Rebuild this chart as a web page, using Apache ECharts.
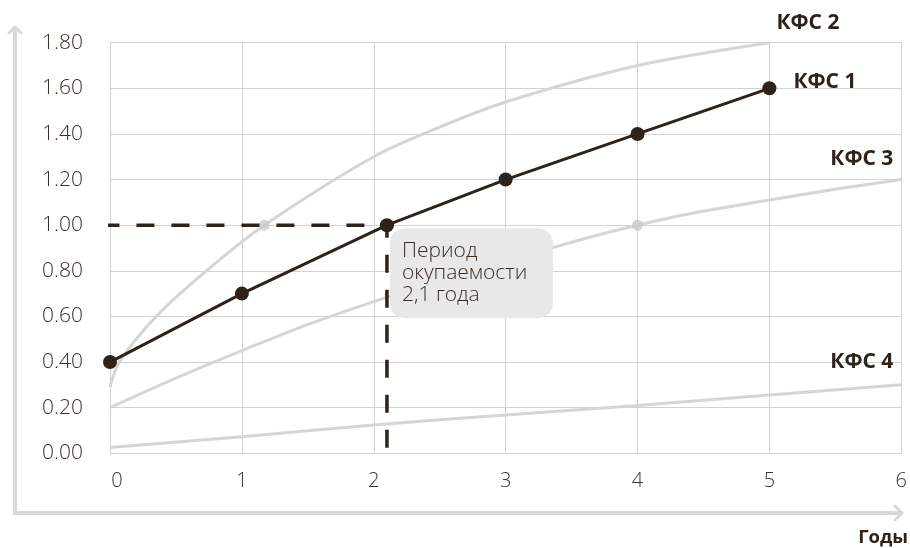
<!DOCTYPE html>
<html>
<head>
<meta charset="utf-8">
<script src="https://cdn.jsdelivr.net/npm/echarts@6/dist/echarts.min.js"></script>
<style>
  html, body { margin: 0; padding: 0; background: #ffffff; }
  #chart { width: 910px; height: 548px; }
</style>
</head>
<body>
<div id="chart"></div>
<script>
// Years on the horizontal axis
const years = [0, 1, 2, 3, 4, 5, 6];

// КФС 1 — main cash-flow ratio curve (payback point included)
const kfs1Years  = [0, 1, 2.1, 3, 4, 5];
const kfs1Values = [0.40, 0.70, 1.00, 1.20, 1.40, 1.60];

// КФС 2 — fast-growing comparison curve
const kfs2Years  = [0, 0.07, 0.35, 0.73, 1.17, 2, 2.5, 3, 4, 5];
const kfs2Values = [0.29, 0.40, 0.60, 0.80, 1.00, 1.30, 1.43, 1.54, 1.70, 1.80];

// КФС 3 and КФС 4 — slower comparison curves, one value per year
const kfs3Values = [0.20, 0.45, 0.665, 0.84, 1.00, 1.11, 1.20];
const kfs4Values = [0.025, 0.073, 0.124, 0.168, 0.21, 0.256, 0.30];

// Points where comparison curves reach a ratio of 1.00
const crossYears  = [1.17, 4];
const crossValues = [1.00, 1.00];

// Payback period guide
const paybackYear = 2.1;
const paybackLevel = 1.00;
const guideStartYear = -0.065;
const guideEndLevel = -0.03;
const paybackText = ['Период', 'окупаемости', '2,1 года'];

// Axis ticks
const yTicks = { min: 0, max: 1.8, step: 0.2 };
const xTicks = { min: 0, max: 6, step: 1 };

const ink = '#2e2219';
const textInk = '#3b2f27';
const gray = '#d5d5d5';
const gridGray = '#d2d2d2';
const font = '"Open Sans", "Noto Sans", sans-serif';

const zip = (xs, ys) => xs.map((x, i) => [x, ys[i]]);

const kfs1Data = zip(kfs1Years, kfs1Values).map(p => {
  if (p[0] !== paybackYear) return p;
  return {
    value: p,
    label: {
      show: true,
      position: [10, 10],
      formatter: paybackText.join('\n'),
      backgroundColor: '#e8e8e8',
      borderRadius: 15,
      padding: [12, 16, 12, 12],
      width: 135,
      color: textInk,
      fontFamily: font,
      fontWeight: 300,
      fontSize: 21,
      lineHeight: 22,
      align: 'left',
      verticalAlign: 'top'
    }
  };
});

const endLabel = (offset, align) => ({
  show: true,
  formatter: '{a}',
  distance: 0,
  offset: offset,
  align: align,
  color: ink,
  fontFamily: font,
  fontWeight: 'bold',
  fontSize: 21
});

const chart = echarts.init(document.getElementById('chart'), null, { renderer: 'canvas' });

chart.setOption({
  animation: false,
  backgroundColor: '#ffffff',
  grid: { left: 110, right: 6.7, top: 42.7, bottom: 94.7, containLabel: false },
  xAxis: {
    type: 'value',
    min: xTicks.min, max: xTicks.max, interval: xTicks.step,
    axisLine: { show: false },
    axisTick: { show: false },
    splitLine: { show: true, lineStyle: { color: gridGray, width: 1 } },
    axisLabel: {
      margin: 18,
      color: textInk,
      fontFamily: font,
      fontWeight: 300,
      fontSize: 20,
      formatter: v => (v === 0 ? '{z|0}' : String(v)),
      rich: { z: { padding: [0, 0, 0, 14], color: textInk, fontFamily: font, fontWeight: 300, fontSize: 20 } }
    }
  },
  yAxis: {
    type: 'value',
    min: yTicks.min, max: yTicks.max, interval: yTicks.step,
    axisLine: { show: false },
    axisTick: { show: false },
    splitLine: { show: true, lineStyle: { color: gridGray, width: 1 } },
    axisLabel: {
      margin: 27,
      color: textInk,
      fontFamily: font,
      fontWeight: 300,
      fontSize: 21,
      formatter: v => v.toFixed(2)
    }
  },
  graphic: [
    {
      type: 'polyline',
      shape: { points: [[15, 27], [15, 513], [902, 513]] },
      style: { stroke: '#d8d8d8', lineWidth: 4, fill: null },
      silent: true
    },
    {
      type: 'polyline',
      shape: { points: [[9, 33], [15, 27], [21, 33]] },
      style: { stroke: '#d8d8d8', lineWidth: 3, fill: null, lineJoin: 'round', lineCap: 'round' },
      silent: true
    },
    {
      type: 'polyline',
      shape: { points: [[895, 506], [902, 513], [895, 520]] },
      style: { stroke: '#d8d8d8', lineWidth: 3, fill: null, lineJoin: 'round', lineCap: 'round' },
      silent: true
    },
    {
      type: 'text',
      right: 2,
      top: 528,
      style: { text: 'Годы', fill: ink, font: 'bold 18.5px ' + font }
    }
  ],
  series: [
    {
      name: 'КФС 4', type: 'line', z: 2, smooth: true, symbol: 'none',
      lineStyle: { color: gray, width: 3 },
      data: zip(years, kfs4Values),
      endLabel: endLabel([-8, -23], 'right')
    },
    {
      name: 'КФС 3', type: 'line', z: 2, smooth: true, symbol: 'none',
      lineStyle: { color: gray, width: 3 },
      data: zip(years, kfs3Values),
      endLabel: endLabel([-8, -21], 'right')
    },
    {
      name: 'КФС 2', type: 'line', z: 2, smooth: 0.3, symbol: 'none',
      lineStyle: { color: gray, width: 3 },
      data: zip(kfs2Years, kfs2Values),
      endLabel: endLabel([7, -20], 'left')
    },
    {
      name: 'cross', type: 'scatter', z: 3, symbolSize: 11,
      itemStyle: { color: '#c9c9c9' },
      data: zip(crossYears, crossValues)
    },
    {
      name: 'guide', type: 'line', z: 4, clip: false, symbol: 'none',
      lineStyle: { color: ink, width: 3.5, type: [18, 17] },
      data: [[guideStartYear, paybackLevel], [paybackYear, paybackLevel], [paybackYear, guideEndLevel]]
    },
    {
      name: 'КФС 1', type: 'line', z: 5, symbol: 'circle', symbolSize: 14,
      lineStyle: { color: ink, width: 3 },
      itemStyle: { color: ink },
      data: kfs1Data,
      endLabel: endLabel([24, -6.6], 'left')
    }
  ]
});
</script>
</body>
</html>
